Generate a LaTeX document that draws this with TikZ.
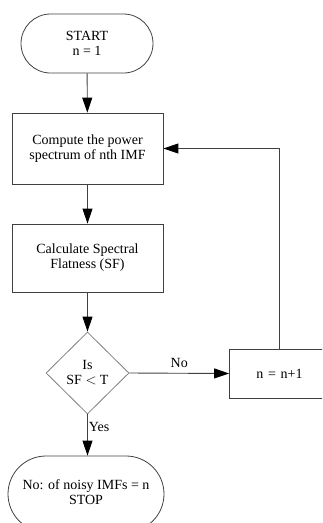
\documentclass[tikz,border=0pt]{standalone}
\usepackage{fontspec}
\setmainfont{Liberation Serif}
\usetikzlibrary{arrows.meta,shapes.geometric}
\begin{document}
\begin{tikzpicture}[x=1pt,y=-1pt,
  every node/.style={font=\fontsize{14}{15}\selectfont, align=center, inner sep=0pt},
  line/.style={draw=black!75, line width=0.9pt},
  arr/.style={line, -{Triangle[length=15pt,width=10pt,color=black,fill=black]}},
  procbox/.style={draw=black!75, line width=0.8pt, rectangle},
  term/.style={draw=black!75, line width=0.8pt, rectangle},
  decide/.style={draw=black!50, line width=0.8pt, diamond, aspect=1, minimum width=83pt, minimum height=82pt}
]
\useasboundingbox (0,0) rectangle (322,523);
\clip (0,0) rectangle (322,523);
\node[term, rounded corners=29.5pt, minimum width=132pt, minimum height=59pt] (start) at (87,43.5) {START\\n = 1};
\node[procbox, minimum width=151pt, minimum height=71pt] (b1) at (87.5,148.5) {Compute the power\\spectrum of nth IMF};
\node[procbox, minimum width=151pt, minimum height=68pt] (b2) at (87.5,258) {Calculate Spectral\\Flatness (SF)};
\node[decide] (d) at (87.5,373) {};
\node (dt) at (87.5,373) {Is\\SF $<$ T};
\node[procbox, minimum width=100pt, minimum height=49pt, text width=96pt] (b3) at (279.5,373.5) {n = n+1};
\node[term, rounded corners=38pt, minimum width=156pt, minimum height=76pt] (stop) at (86,494) {};
\node (stopt) at (86,492) {No: of noisy IMFs = n\\STOP};
\draw[arr] (start) -- (b1);
\draw[arr] (b1) -- (b2);
\draw[arr] (b2) -- (d);
\draw[arr] (d.east) -- node[above=5pt] {No} (b3.west);
\draw[arr] (d.south) -- node[right=1pt, pos=0.3] {Yes} (stop.north -| d.south);
\draw[arr] (b3.north) |- (b1.east);
\end{tikzpicture}
\end{document}
